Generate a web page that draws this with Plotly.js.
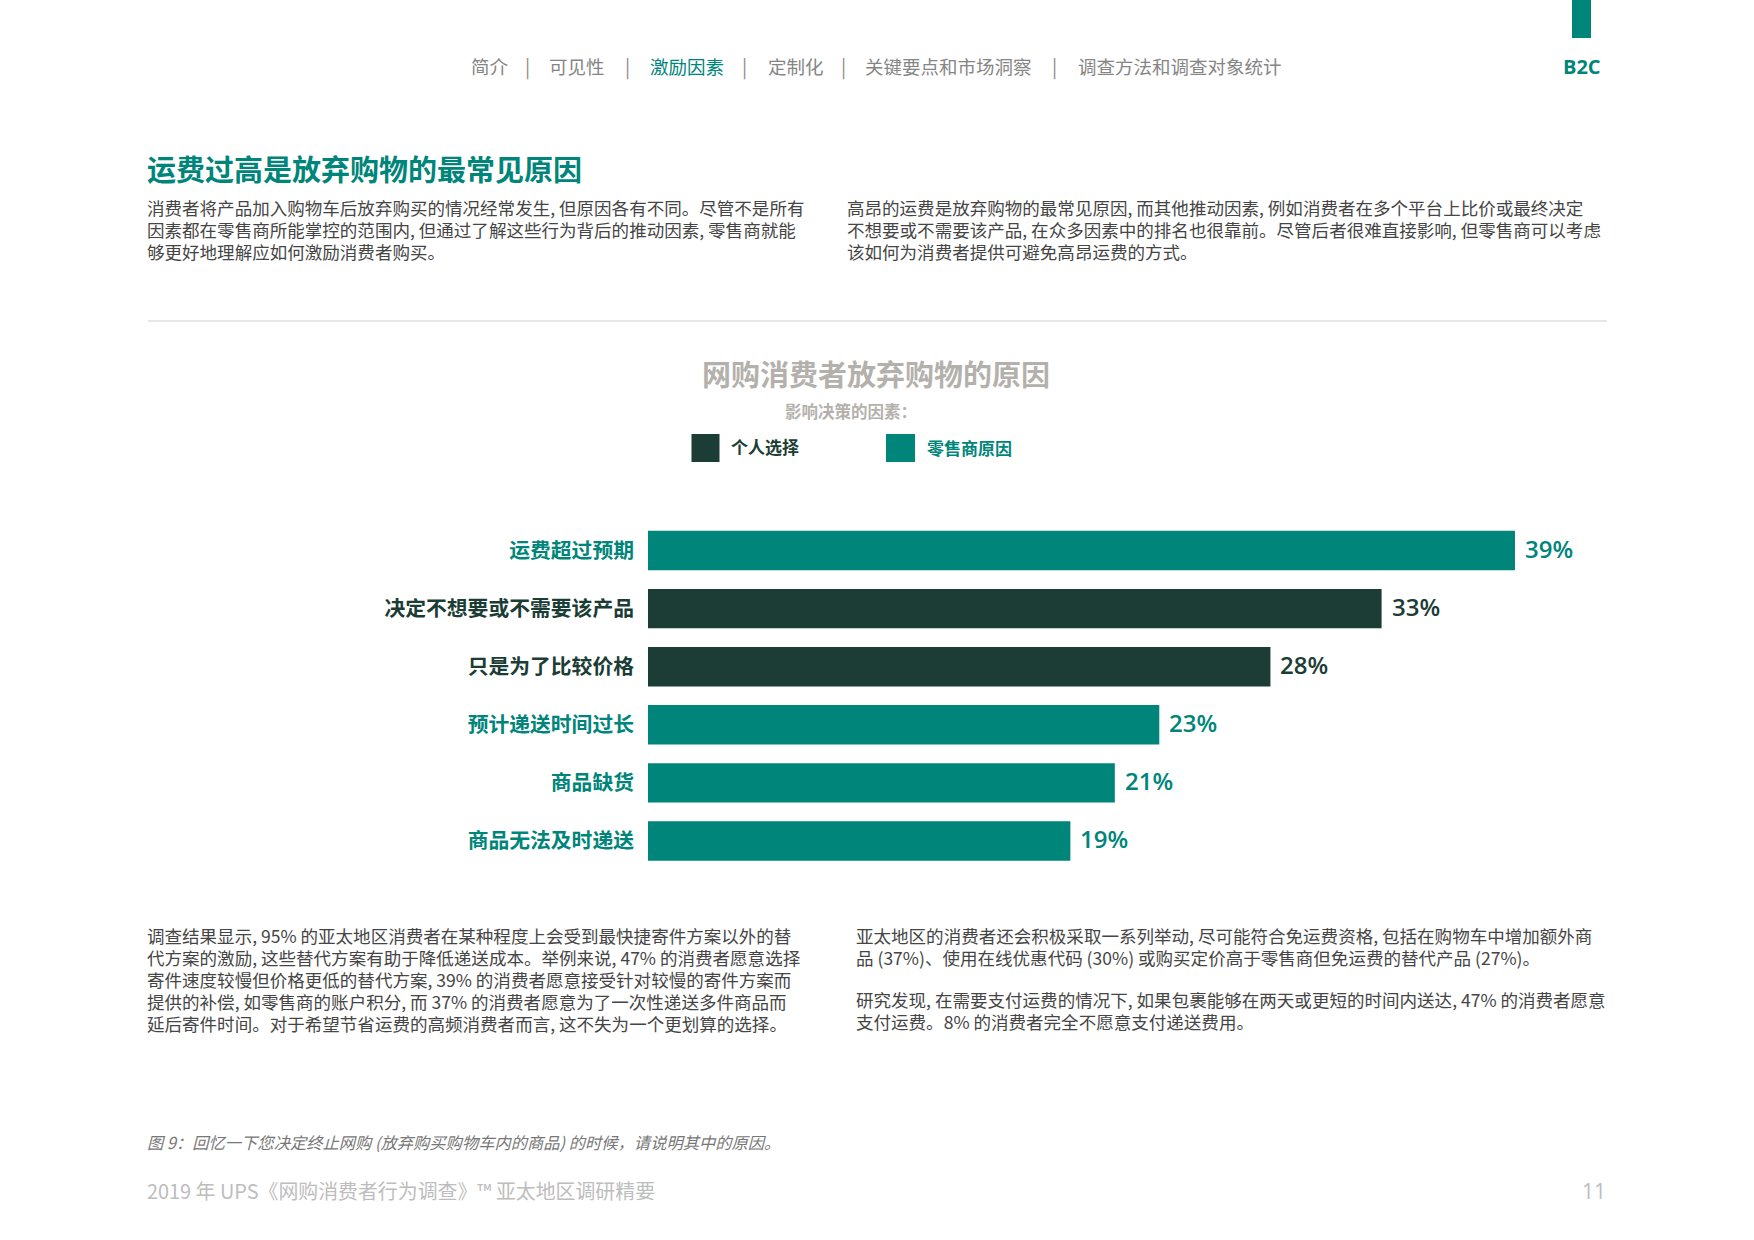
<!DOCTYPE html>
<html>
<head>
<meta charset="utf-8">
<script src="https://cdn.plot.ly/plotly-3.0.1.min.js"></script>
<style>
html,body{margin:0;padding:0;background:#ffffff;}
#chart{width:1754px;height:1240px;}
</style>
</head>
<body>
<div id="chart"></div>
<script>
// ---------- data ----------
const categories = ['运费超过预期','决定不想要或不需要该产品','只是为了比较价格','预计递送时间过长','商品缺货','商品无法及时递送'];
const values = [39, 33, 28, 23, 21, 19];
const groups = ['零售商原因','个人选择','个人选择','零售商原因','零售商原因','零售商原因'];
const groupNames = ['个人选择','零售商原因'];
const groupColors = {'个人选择':'#1b3d35','零售商原因':'#00857a'};

const chartTitle = '网购消费者放弃购物的原因';
const chartSubtitle = '影响决策的因素：';
const pageTitle = '运费过高是放弃购物的最常见原因';
const navItems = ['简介','可见性','激励因素','定制化','关键要点和市场洞察','调查方法和调查对象统计'];
const activeNav = '激励因素';
const sectionTag = 'B2C';
const introLeft = [
  '消费者将产品加入购物车后放弃购买的情况经常发生, 但原因各有不同。尽管不是所有',
  '因素都在零售商所能掌控的范围内, 但通过了解这些行为背后的推动因素, 零售商就能',
  '够更好地理解应如何激励消费者购买。'
];
const introRight = [
  '高昂的运费是放弃购物的最常见原因, 而其他推动因素, 例如消费者在多个平台上比价或最终决定',
  '不想要或不需要该产品, 在众多因素中的排名也很靠前。尽管后者很难直接影响, 但零售商可以考虑',
  '该如何为消费者提供可避免高昂运费的方式。'
];
const bodyLeft = [
  '调查结果显示, 95% 的亚太地区消费者在某种程度上会受到最快捷寄件方案以外的替',
  '代方案的激励, 这些替代方案有助于降低递送成本。举例来说, 47% 的消费者愿意选择',
  '寄件速度较慢但价格更低的替代方案, 39% 的消费者愿意接受针对较慢的寄件方案而',
  '提供的补偿, 如零售商的账户积分, 而 37% 的消费者愿意为了一次性递送多件商品而',
  '延后寄件时间。对于希望节省运费的高频消费者而言, 这不失为一个更划算的选择。'
];
const bodyRight1 = [
  '亚太地区的消费者还会积极采取一系列举动, 尽可能符合免运费资格, 包括在购物车中增加额外商',
  '品 (37%)、使用在线优惠代码 (30%) 或购买定价高于零售商但免运费的替代产品 (27%)。'
];
const bodyRight2 = [
  '研究发现, 在需要支付运费的情况下, 如果包裹能够在两天或更短的时间内送达, 47% 的消费者愿意',
  '支付运费。8% 的消费者完全不愿意支付递送费用。'
];
const caption = '图 9：回忆一下您决定终止网购 (放弃购买购物车内的商品) 的时候，请说明其中的原因。';
const footer = '2019 年 UPS《网购消费者行为调查》™ 亚太地区调研精要';
const pageNumber = '11';

// ---------- layout helpers ----------
const W = 1754, H = 1240;
const px = x => x / W;
const py = y => 1 - y / H;
const CJK = '"Noto Sans CJK SC", "Noto Sans", sans-serif';
const NUM = '"Open Sans", "Noto Sans", sans-serif';
const TEAL = '#00857a', GREY_T = '#b4b1ac', BODY = '#454545';

// ---------- traces ----------
const traces = groupNames.map(g => {
  const idx = categories.map((c, i) => i).filter(i => groups[i] === g);
  return {
    type: 'bar',
    orientation: 'h',
    name: g,
    y: idx.map(i => categories[i]),
    x: idx.map(i => values[i]),
    marker: {color: groupColors[g], line: {width: 0}},
    hoverinfo: 'skip',
    showlegend: false
  };
});

// ---------- annotations ----------
const ann = [];
function txt(x, y, text, opts) {
  ann.push(Object.assign({
    xref: 'paper', yref: 'paper', x: px(x), y: py(y), text: text,
    showarrow: false, xanchor: 'left', yanchor: 'middle', align: 'left',
    font: {family: CJK, size: 17.5, color: BODY}
  }, opts || {}));
}
function para(x, y0, step, lines, size) {
  lines.forEach((l, i) => txt(x, y0 + i * step, l, {font: {family: CJK, size: size, color: BODY}}));
}

// nav
const navStarts = [468.5, 546.5, 647.5, 765.5, 862.5, 1075.5];
const navSeps = [527.5, 627.5, 744.5, 843.5, 1054.5];
navItems.forEach((n, i) => {
  txt(navStarts[i], 66, n, {font: {family: CJK, size: 18.5, color: n === activeNav ? TEAL : '#858585'}});
});
navSeps.forEach(x => txt(x, 66, '|', {xanchor: 'center', font: {family: CJK, size: 19, color: '#8a8a8a'}}));
txt(1582, 66, sectionTag, {xanchor: 'center', font: {family: NUM, size: 20, color: TEAL, weight: 700}});

// page title and paragraphs
txt(145, 168, pageTitle, {font: {family: CJK, size: 29, color: TEAL, weight: 700}});
para(145, 207.5, 22, introLeft, 17.55);
para(845, 207.5, 22, introRight, 17.55);
para(145, 935, 22, bodyLeft, 17.55);
para(854, 935, 22, bodyRight1, 17.55);
para(854, 999, 22, bodyRight2, 17.55);

// chart title, subtitle
txt(875.5, 372.5, chartTitle, {xanchor: 'center', font: {family: CJK, size: 29, color: GREY_T, weight: 700}});
txt(851, 410.5, chartSubtitle, {xanchor: 'center', font: {family: CJK, size: 16.5, color: GREY_T, weight: 700}});

// legend labels
txt(728.5, 446.5, groupNames[0], {font: {family: CJK, size: 17, color: groupColors[groupNames[0]], weight: 700}});
txt(924.5, 447.5, groupNames[1], {font: {family: CJK, size: 17, color: groupColors[groupNames[1]], weight: 700}});

// value labels (data coordinates)
categories.forEach((c, i) => {
  ann.push({
    xref: 'x', yref: 'y', x: values[i], y: c, text: values[i] + '%',
    showarrow: false, xanchor: 'left', yanchor: 'middle', xshift: 8, yshift: 2,
    font: {family: NUM, size: 24, color: groupColors[groups[i]], weight: 600}
  });
});

// caption & footer
txt(145, 1142, '<i>' + caption + '</i>', {font: {family: CJK, size: 16.3, color: '#777777'}});
txt(145, 1190.5, footer, {font: {family: CJK, size: 19.9, color: '#bdbdbd'}});
txt(1594, 1190.5, pageNumber, {xanchor: 'center', font: {family: NUM, size: 21, color: '#bdbdbd'}});

// ---------- shapes ----------
const shapes = [
  {type: 'rect', xref: 'paper', yref: 'paper', x0: px(1572), x1: px(1591), y0: py(0), y1: py(38), fillcolor: TEAL, line: {width: 0}},
  {type: 'line', xref: 'paper', yref: 'paper', x0: px(148), x1: px(1607), y0: py(321), y1: py(321), line: {color: '#cfcfcf', width: 1.2}},
  {type: 'rect', xref: 'paper', yref: 'paper', x0: px(691.5), x1: px(719.5), y0: py(434), y1: py(462), fillcolor: groupColors[groupNames[0]], line: {width: 0}},
  {type: 'rect', xref: 'paper', yref: 'paper', x0: px(886), x1: px(915), y0: py(434), y1: py(462), fillcolor: groupColors[groupNames[1]], line: {width: 0}}
];

// ---------- category tick labels coloured by group ----------
const tickText = categories.map((c, i) => '<span style="color:' + groupColors[groups[i]] + '">' + c + '</span>');

const layout = {
  width: W, height: H,
  margin: {l: 0, r: 0, t: 0, b: 0, pad: 0},
  paper_bgcolor: '#ffffff', plot_bgcolor: 'rgba(0,0,0,0)',
  barmode: 'overlay',
  bargap: 0.32,
  showlegend: false,
  xaxis: {
    domain: [648 / W, (648 + 45 * 22.23) / W],
    range: [0, 45], showgrid: false, zeroline: false, showline: false,
    showticklabels: false, ticks: '', fixedrange: true
  },
  yaxis: {
    domain: [1 - 870 / H, 1 - 521.5 / H],
    type: 'category', categoryorder: 'array', categoryarray: categories,
    range: [categories.length - 0.5, -0.5],
    tickvals: categories, ticktext: tickText,
    ticks: '', showgrid: false, zeroline: false, showline: false,
    ticklabelstandoff: 13,
    tickfont: {family: CJK, size: 20.8, color: TEAL, weight: 700},
    fixedrange: true
  },
  annotations: ann,
  shapes: shapes
};

Plotly.newPlot('chart', traces, layout, {displayModeBar: false, staticPlot: true});
</script>
</body>
</html>
